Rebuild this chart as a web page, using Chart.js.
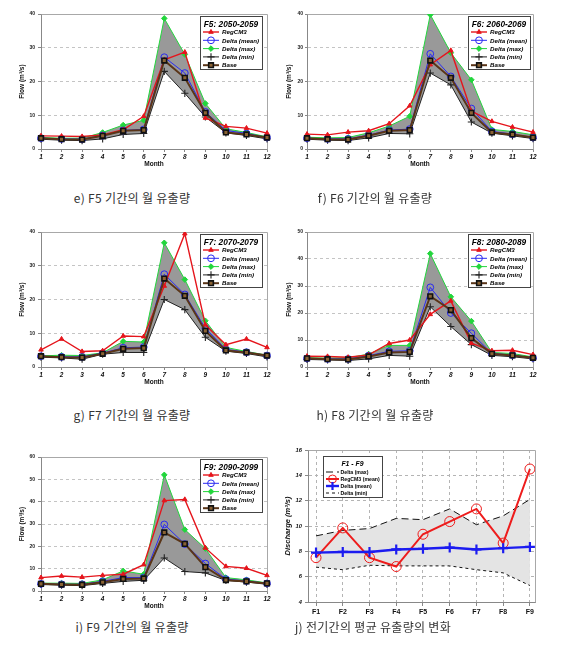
<!DOCTYPE html>
<html><head><meta charset="utf-8">
<script src="https://cdn.jsdelivr.net/npm/chart.js@4.4.1/dist/chart.umd.min.js"></script>
<style>
html,body{margin:0;padding:0;background:#fff;}
body{width:571px;height:663px;position:relative;overflow:hidden;}
.p{position:absolute;}
.p canvas{position:absolute;left:0;top:0;}
.cap{position:absolute;width:220px;text-align:center;font-family:"Noto Sans CJK KR","Noto Sans",sans-serif;font-size:12px;line-height:14px;color:#333;letter-spacing:0.3px;}
</style></head>
<body>
<div class="p" id="pe"><canvas id="ce"></canvas></div>
<div class="p" id="pf"><canvas id="cf"></canvas></div>
<div class="p" id="pg"><canvas id="cg"></canvas></div>
<div class="p" id="ph"><canvas id="ch"></canvas></div>
<div class="p" id="pi"><canvas id="ci"></canvas></div>
<div class="p" id="pj"><canvas id="cj"></canvas></div>
<div class="cap" style="left:22px;top:191px">e) F5 기간의 월 유출량</div>
<div class="cap" style="left:265px;top:191px">f) F6 기간의 월 유출량</div>
<div class="cap" style="left:22px;top:408px">g) F7 기간의 월 유출량</div>
<div class="cap" style="left:265px;top:408px">h) F8 기간의 월 유출량</div>
<div class="cap" style="left:22px;top:620px">i) F9 기간의 월 유출량</div>
<div class="cap" style="left:263px;top:620px">j) 전기간의 평균 유출량의 변화</div>
<script>
// ---------- data ----------
const months = ['1','2','3','4','5','6','7','8','9','10','11','12'];
const seriesNames = ['RegCM3','Delta (mean)','Delta (max)','Delta (min)','Base'];
const base = [3.2, 2.9, 2.8, 3.9, 5.4, 5.6, 26.2, 21.1, 10.7, 4.9, 4.3, 3.4];

const f5Title = 'F5: 2050-2059';
const f5RegCM3 = [3.9, 3.8, 3.7, 4.2, 5.7, 9.7, 26.4, 28.7, 9.2, 6.7, 6.2, 4.7];
const f5Mean   = [3.2, 3.0, 2.9, 4.0, 5.5, 5.8, 27.2, 22.5, 11.0, 5.5, 4.6, 3.4];
const f5Max    = [3.4, 3.2, 3.2, 4.9, 7.1, 8.5, 38.7, 28.0, 13.5, 6.0, 4.9, 3.6];
const f5Min    = [2.9, 2.6, 2.5, 3.0, 4.3, 4.6, 23.0, 16.5, 9.5, 4.8, 4.0, 3.0];

const f6Title = 'F6: 2060-2069';
const f6RegCM3 = [4.4, 4.2, 5.0, 5.4, 7.5, 12.8, 25.0, 29.2, 11.2, 8.2, 6.5, 5.0];
const f6Mean   = [3.2, 3.0, 3.0, 4.1, 5.6, 5.9, 28.2, 21.5, 12.0, 5.2, 4.4, 3.4];
const f6Max    = [3.5, 3.3, 3.4, 4.8, 6.8, 9.7, 39.8, 28.5, 20.5, 5.8, 5.2, 4.2];
const f6Min    = [2.9, 2.6, 2.5, 3.3, 4.6, 4.5, 22.5, 19.0, 8.0, 4.7, 3.9, 3.1];

const f7Title = 'F7: 2070-2079';
const f7RegCM3 = [5.1, 8.3, 4.6, 4.8, 9.2, 9.0, 24.0, 39.5, 12.5, 6.6, 8.3, 5.8];
const f7Mean   = [3.2, 3.0, 3.0, 4.1, 5.7, 5.9, 27.5, 21.5, 11.5, 5.2, 4.4, 3.4];
const f7Max    = [3.3, 3.5, 3.4, 4.2, 7.6, 7.4, 36.8, 25.9, 13.7, 5.8, 4.6, 3.5];
const f7Min    = [2.9, 2.7, 2.3, 3.8, 4.3, 4.3, 20.0, 17.0, 8.8, 4.7, 4.0, 3.0];

const f8Title = 'F8: 2080-2089';
const f8RegCM3 = [4.0, 3.9, 3.6, 4.5, 8.7, 10.0, 19.5, 24.5, 8.8, 6.0, 6.2, 4.6];
const f8Mean   = [3.2, 3.0, 3.0, 4.2, 5.8, 6.0, 29.5, 20.0, 12.5, 5.0, 4.4, 3.4];
const f8Max    = [3.4, 3.3, 3.4, 4.8, 8.0, 8.0, 42.0, 26.0, 17.0, 5.4, 5.0, 3.7];
const f8Min    = [2.8, 2.6, 2.4, 3.0, 4.3, 4.0, 22.3, 15.0, 8.3, 4.3, 3.8, 3.0];

const f9Title = 'F9: 2090-2099';
const f9RegCM3 = [6.0, 6.7, 6.2, 7.0, 7.5, 11.8, 40.5, 41.0, 19.3, 11.0, 10.2, 7.0];
const f9Mean   = [3.2, 3.0, 3.0, 4.3, 6.0, 6.0, 29.8, 21.0, 12.3, 5.3, 4.5, 3.4];
const f9Max    = [3.5, 3.5, 3.4, 5.0, 9.0, 7.5, 52.0, 27.5, 19.0, 6.0, 5.0, 3.6];
const f9Min    = [2.9, 2.6, 2.4, 3.4, 4.3, 4.8, 14.8, 8.7, 8.1, 4.7, 4.0, 3.0];

const periods = ['F1','F2','F3','F4','F5','F6','F7','F8','F9'];
const jTitle = 'F1 - F9';
const jNames = ['Delta (max)','RegCM3 (mean)','Delta (mean)','Delta (min)'];
const jDeltaMax  = [9.22, 9.65, 9.8, 10.6, 10.5, 11.35, 10.1, 10.8, 12.1];
const jRegCM3    = [7.5, 9.85, 7.5, 6.8, 9.35, 10.35, 11.35, 8.65, 14.5];
const jDeltaMean = [7.9, 7.95, 7.95, 8.15, 8.2, 8.3, 8.15, 8.25, 8.35];
const jDeltaMin  = [6.75, 6.55, 6.9, 6.85, 6.85, 6.85, 6.55, 6.3, 5.3];

// ---------- plugins ----------
const FONT = "'Liberation Sans', Arial, sans-serif";

const framePlugin = {
  id: 'frame',
  beforeDatasetsDraw(chart) {
    const a = chart.chartArea, ctx = chart.ctx;
    ctx.save();
    ctx.strokeStyle = '#a8a8a8'; ctx.lineWidth = 1;
    ctx.beginPath();
    ctx.moveTo(Math.round(a.left) + 0.5, Math.round(a.top) + 0.5);
    ctx.lineTo(Math.round(a.right) + 0.5, Math.round(a.top) + 0.5);
    ctx.lineTo(Math.round(a.right) + 0.5, Math.round(a.bottom) + 0.5);
    ctx.stroke();
    ctx.restore();
  }
};

const boxLegend = {
  id: 'boxLegend',
  afterDatasetsDraw(chart, args, o) {
    if (!o || !o.w) return;
    const ctx = chart.ctx, a = chart.chartArea;
    const x0 = Math.round(o.left != null ? a.left + o.left : a.right - o.right - o.w);
    const y0 = Math.round(a.top + o.top);
    ctx.save();
    ctx.fillStyle = '#fff';
    ctx.fillRect(x0, y0, o.w, o.h);
    ctx.strokeStyle = '#444'; ctx.lineWidth = 1;
    ctx.strokeRect(x0 + 0.5, y0 + 0.5, o.w, o.h);
    ctx.fillStyle = '#000';
    ctx.font = o.titleFont;
    ctx.textAlign = 'center'; ctx.textBaseline = 'middle';
    ctx.fillText(o.title, x0 + o.w / 2, y0 + o.titleY);
    const dsList = chart.data.datasets;
    dsList.forEach((ds, i) => {
      const y = y0 + o.firstY + i * o.step;
      ctx.save();
      ctx.strokeStyle = ds.borderColor;
      ctx.lineWidth = ds.borderWidth || 1;
      ctx.setLineDash(ds.borderDash || []);
      ctx.beginPath();
      ctx.moveTo(x0 + o.lx0, y); ctx.lineTo(x0 + o.lx1, y);
      ctx.stroke();
      ctx.setLineDash([]);
      if (ds.pointRadius > 0) {
        ctx.fillStyle = ds.pointBackgroundColor || ds.borderColor;
        ctx.strokeStyle = ds.pointBorderColor || ds.borderColor;
        ctx.lineWidth = ds.pointBorderWidth || 1;
        Chart.helpers.drawPoint(ctx, {pointStyle: ds.pointStyle, rotation: 0,
          radius: ds.pointRadius * (o.markScale || 1), borderWidth: ds.pointBorderWidth || 1},
          x0 + (o.lx0 + o.lx1) / 2, y);
      }
      ctx.restore();
      ctx.fillStyle = '#000';
      ctx.font = o.itemFont;
      ctx.textAlign = 'left'; ctx.textBaseline = 'middle';
      ctx.fillText(ds.label, x0 + o.tx, y + 0.5);
    });
    ctx.restore();
  }
};

function setupCanvas(divId, canvasId, g) {
  const d = document.getElementById(divId);
  d.style.left = g.x + 'px'; d.style.top = g.y + 'px';
  d.style.width = g.W + 'px'; d.style.height = g.H + 'px';
  const c = document.getElementById(canvasId);
  c.width = g.W; c.height = g.H;
  c.style.width = g.W + 'px'; c.style.height = g.H + 'px';
  return c;
}

function monthlyPanel(divId, canvasId, g, title, reg, mean, max, min, yMax) {
  const c = setupCanvas(divId, canvasId, g);
  return new Chart(c, {
    type: 'line',
    data: {
      labels: months,
      datasets: [
        {label: seriesNames[0], data: reg, borderColor: '#e5151c', backgroundColor: '#e5151c',
         borderWidth: 1.4, pointStyle: 'triangle', pointRadius: 2.6, pointBorderWidth: 1,
         pointBackgroundColor: '#e5151c', pointBorderColor: '#e5151c', fill: false, order: 1},
        {label: seriesNames[1], data: mean, borderColor: '#2a2af2', backgroundColor: 'rgba(0,0,0,0)',
         borderWidth: 1, pointStyle: 'circle', pointRadius: 3.4, pointBorderWidth: 1,
         pointBackgroundColor: 'rgba(255,255,255,0)', pointBorderColor: '#2a2af2', fill: false, order: 2},
        {label: seriesNames[2], data: max, borderColor: '#22d63c', backgroundColor: '#999999',
         borderWidth: 1, pointStyle: 'rectRot', pointRadius: 2.8, pointBorderWidth: 1,
         pointBackgroundColor: '#22d63c', pointBorderColor: '#22d63c', fill: '+1', order: 4},
        {label: seriesNames[3], data: min, borderColor: '#222222', backgroundColor: '#222222',
         borderWidth: 1, pointStyle: 'cross', pointRadius: 3.6, pointBorderWidth: 1.1,
         pointBackgroundColor: '#222222', pointBorderColor: '#222222', fill: false, order: 3},
        {label: seriesNames[4], data: base, borderColor: '#5a3518', backgroundColor: '#5a3518',
         borderWidth: 2, pointStyle: 'rect', pointRadius: 3.3, pointBorderWidth: 1.6,
         pointBackgroundColor: '#8a6234', pointBorderColor: '#111111', fill: false, order: 0}
      ]
    },
    options: {
      responsive: false, animation: false, devicePixelRatio: 1,
      layout: {padding: {left: 0, right: g.W - g.R, top: g.T, bottom: 0}},
      elements: {line: {tension: 0}},
      plugins: {
        legend: {display: false}, tooltip: {enabled: false},
        filler: {propagate: false, drawTime: 'beforeDatasetsDraw'},
        boxLegend: {title: title, right: g.legR, top: 2, w: 62, h: 53,
          titleY: 8.3, firstY: 16, step: 8.3, lx0: 3, lx1: 19, tx: 22,
          titleFont: "italic bold 8.3px " + FONT, itemFont: "italic bold 6.2px " + FONT}
      },
      scales: {
        x: {
          type: 'category', offset: false,
          grid: {display: true, drawOnChartArea: false, drawTicks: true, tickLength: 3, color: '#888', tickColor: '#888'},
          border: {display: true, color: '#888', width: 1},
          ticks: {color: '#111', padding: 1, maxRotation: 0, autoSkip: false,
                  font: {family: FONT, size: 6.5, weight: 'bold', style: 'italic'}},
          title: {display: true, text: 'Month', color: '#111',
                  font: {family: FONT, size: 6.5, weight: 'bold'}, padding: {top: 0, bottom: 3.5}},
          afterFit: s => { s.height = g.H - g.B; }
        },
        y: {
          min: 0, max: yMax,
          grid: {color: '#c4c4c4', lineWidth: 1, tickLength: g.tl, tickColor: '#888', tickBorderDash: []},
          border: {display: true, color: '#888', width: 1, dash: [3, 3]},
          ticks: {stepSize: 10, color: '#222', padding: g.tp,
                  font: {family: FONT, size: 5, weight: 'bold'}},
          title: {display: true, text: 'Flow (m³/s)', color: '#111',
                  font: {family: FONT, size: 6.5, weight: 'bold'}, padding: {top: g.ytp, bottom: 0}},
          afterFit: s => { s.width = g.L; }
        }
      }
    },
    plugins: [framePlugin, boxLegend]
  });
}

const leftGeo  = {W: 285, L: 41, R: 267, legR: 5, tl: 3, tp: 3, ytp: 18.5};
const rightGeo = {W: 291, L: 27, R: 253, legR: 3, tl: 2, tp: 2, ytp: 5.8};

monthlyPanel('pe', 'ce', Object.assign({x: 0,   y: 0,   H: 172, T: 14, B: 149}, leftGeo),  f5Title, f5RegCM3, f5Mean, f5Max, f5Min, 40);
monthlyPanel('pf', 'cf', Object.assign({x: 280, y: 0,   H: 172, T: 14, B: 149}, rightGeo), f6Title, f6RegCM3, f6Mean, f6Max, f6Min, 40);
monthlyPanel('pg', 'cg', Object.assign({x: 0,   y: 220, H: 170, T: 12, B: 147}, leftGeo),  f7Title, f7RegCM3, f7Mean, f7Max, f7Min, 40);
monthlyPanel('ph', 'ch', Object.assign({x: 280, y: 220, H: 170, T: 12, B: 147}, rightGeo), f8Title, f8RegCM3, f8Mean, f8Max, f8Min, 50);
monthlyPanel('pi', 'ci', Object.assign({x: 0,   y: 440, H: 174, T: 17, B: 151}, leftGeo),  f9Title, f9RegCM3, f9Mean, f9Max, f9Min, 60);

// ---------- panel j ----------
(function () {
  const g = {x: 280, y: 440, W: 291, H: 178, L: 28, R: 255, T: 10, B: 162};
  const c = setupCanvas('pj', 'cj', g);
  const pts = arr => arr.map((v, i) => ({x: i + 1, y: v}));
  new Chart(c, {
    type: 'line',
    data: {
      datasets: [
        {label: jNames[0], data: pts(jDeltaMax), borderColor: '#111', backgroundColor: '#e4e4e4',
         borderWidth: 1, borderDash: [7, 4], pointRadius: 0, fill: {target: 3}, order: 3},
        {label: jNames[1], data: pts(jRegCM3), borderColor: '#ee1c1c', backgroundColor: '#ee1c1c',
         borderWidth: 2, pointStyle: 'circle', pointRadius: 5, pointBorderWidth: 1,
         pointBackgroundColor: 'rgba(255,255,255,0)', pointBorderColor: '#ee1c1c', fill: false, order: 1},
        {label: jNames[2], data: pts(jDeltaMean), borderColor: '#1c1cf0', backgroundColor: '#1c1cf0',
         borderWidth: 2.4, pointStyle: 'cross', pointRadius: 5, pointBorderWidth: 2.2,
         pointBackgroundColor: '#1c1cf0', pointBorderColor: '#1c1cf0', fill: false, order: 0},
        {label: jNames[3], data: pts(jDeltaMin), borderColor: '#111', backgroundColor: '#111',
         borderWidth: 1, borderDash: [3, 3], pointRadius: 0, fill: false, order: 2}
      ]
    },
    options: {
      responsive: false, animation: false, devicePixelRatio: 1,
      layout: {padding: {left: 0, right: g.W - g.R, top: g.T, bottom: 0}},
      elements: {line: {tension: 0}},
      plugins: {
        legend: {display: false}, tooltip: {enabled: false},
        filler: {propagate: false, drawTime: 'beforeDatasetsDraw'},
        boxLegend: {title: jTitle, left: 15, top: 6, w: 59, h: 41,
          titleY: 8, firstY: 16, step: 7, lx0: 3, lx1: 16, tx: 17.5, markScale: 0.8,
          titleFont: "italic bold 6.9px " + FONT, itemFont: "bold 5.2px " + FONT}
      },
      scales: {
        x: {
          type: 'linear', min: 0.70, max: 9.19,
          grid: {color: '#b4b4b4', lineWidth: 1, tickLength: 4, tickColor: '#888', tickBorderDash: []},
          border: {display: true, color: '#888', width: 1, dash: [3, 3]},
          ticks: {stepSize: 1, includeBounds: false, autoSkip: false, maxRotation: 0, padding: 2, color: '#111',
                  font: {family: FONT, size: 7, weight: 'bold'},
                  callback: v => periods[Math.round(v) - 1] || ''},
          afterFit: s => { s.height = g.H - g.B; }
        },
        y: {
          min: 4, max: 16,
          grid: {color: '#b4b4b4', lineWidth: 1, tickLength: 3, tickColor: '#888', tickBorderDash: []},
          border: {display: true, color: '#888', width: 1, dash: [3, 3]},
          ticks: {stepSize: 2, padding: 3, color: '#111',
                  font: {family: FONT, size: 5.8, weight: 'bold', style: 'italic'}},
          title: {display: true, text: 'Discharge (m³/s)', color: '#111',
                  font: {family: FONT, size: 7.5, weight: 'bold', style: 'italic'}, padding: {top: 3.5, bottom: 0}},
          afterFit: s => { s.width = g.L; }
        }
      }
    },
    plugins: [framePlugin, boxLegend]
  });
})();
</script>
</body></html>
